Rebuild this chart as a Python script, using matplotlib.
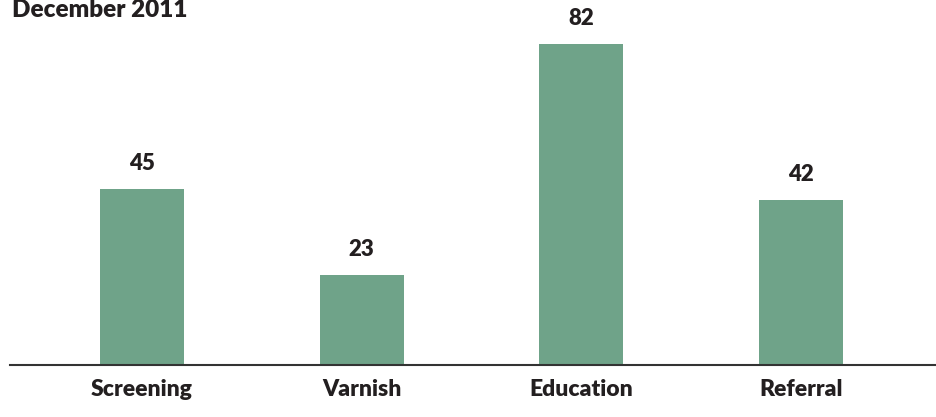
# Gráfico de barras: atendimentos em dezembro de 2011

import matplotlib.pyplot as plt

# --- Dados ---
categorias = ['Screening', 'Varnish', 'Education', 'Referral']
valores = [45, 23, 82, 42]
titulo = 'December 2011'

COR_BARRA = '#6fa389'
COR_TEXTO = '#231f20'
PESO = 'heavy'

plt.rcParams['font.family'] = ['Lato', 'DejaVu Sans']

fig = plt.figure(figsize=(9.37, 4.17), dpi=100)
# eixo posicionado para que a linha de base fique em y=365 px
ax = fig.add_axes([10 / 937, 52 / 417, 927 / 937, 365 / 417])

posicoes = range(len(categorias))
ax.bar(posicoes, valores, width=0.382, color=COR_BARRA, zorder=2)

# rótulos de valor acima de cada barra
for x, v in zip(posicoes, valores):
    ax.annotate(str(v), (x, v), xytext=(0, 15), textcoords='offset pixels',
                ha='center', va='bottom', fontsize=16, fontweight=PESO,
                color=COR_TEXTO)

ax.set_xlim(-0.6, 3.618)
ax.set_ylim(0, 365 / 3.92)
ax.set_xticks(list(posicoes))
ax.set_xticklabels(categorias, fontsize=16.5, fontweight=PESO, color=COR_TEXTO)
ax.tick_params(axis='x', length=0, pad=10)
ax.set_yticks([])

for lado in ['top', 'right', 'left']:
    ax.spines[lado].set_visible(False)
ax.spines['bottom'].set_color('#333333')
ax.spines['bottom'].set_linewidth(1.5)
ax.spines['bottom'].set_zorder(3)

fig.text(12 / 937, 1 - 17 / 417, titulo, fontsize=17.5, fontweight=PESO,
         color=COR_TEXTO, ha='left', va='baseline')

fig.savefig('out.png', dpi=100)
